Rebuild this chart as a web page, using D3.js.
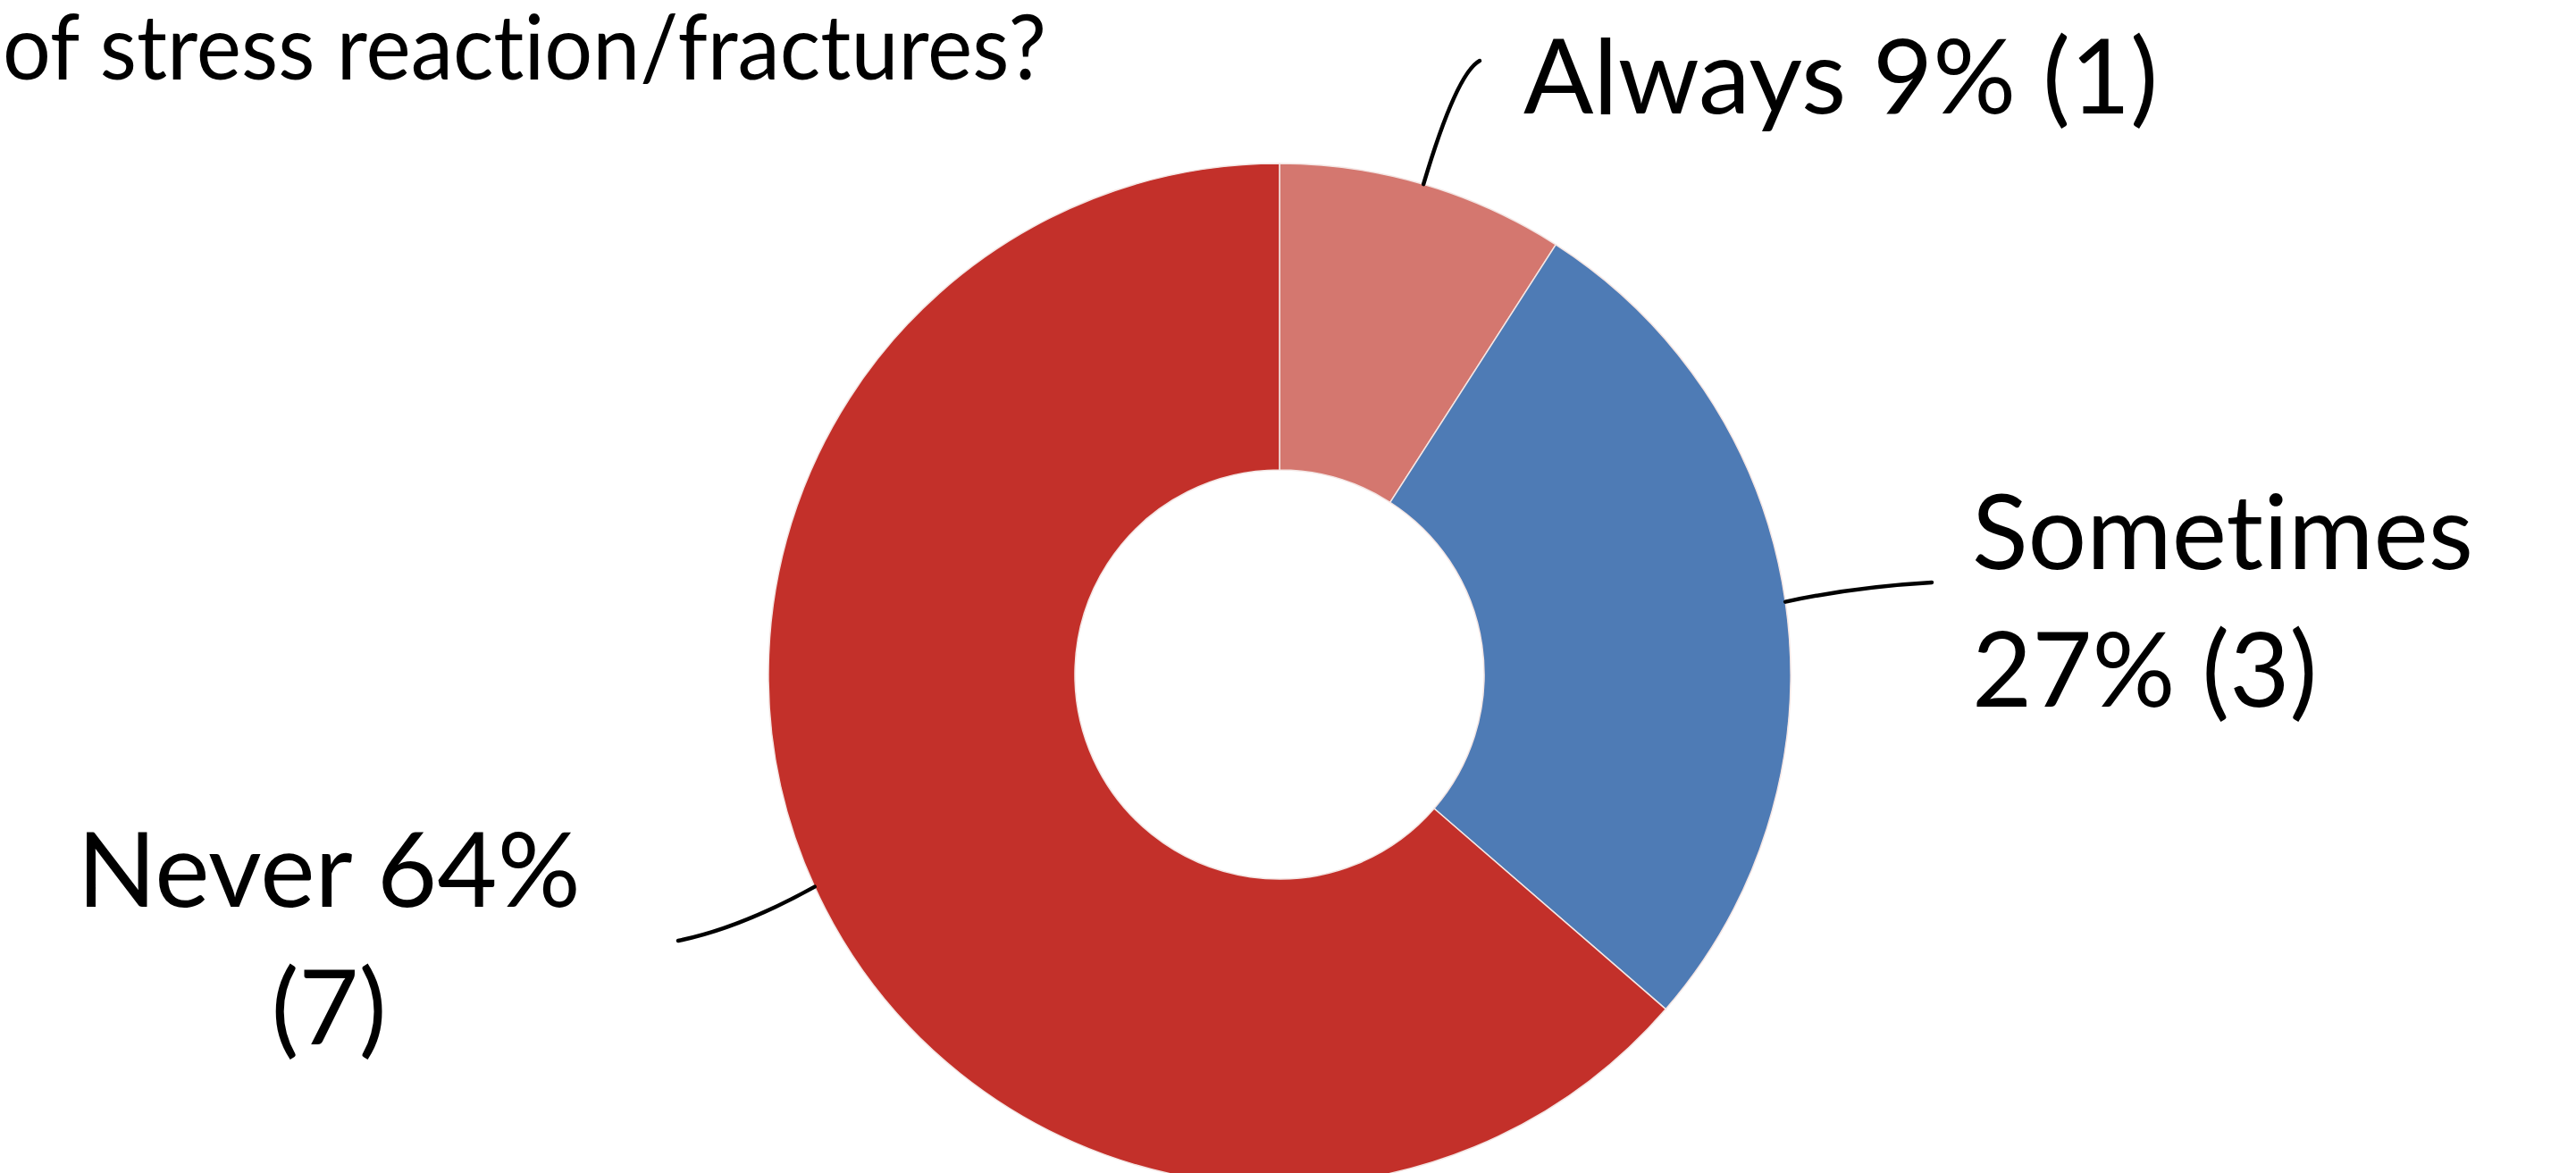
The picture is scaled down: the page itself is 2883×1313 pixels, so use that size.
<!DOCTYPE html>
<html>
<head>
<meta charset="utf-8">
<script src="https://cdn.jsdelivr.net/npm/d3@7"></script>
<style>
	html, body { margin: 0; padding: 0; background: #fff; overflow: hidden; }
	svg { display: block; }
	text { font-family: Lato, "Open Sans", sans-serif; fill: #000; font-variant-ligatures: none; font-feature-settings: "liga" 0; }
</style>
</head>
<body>
<div id="chart"></div>
<script>
var titleText = 'of stress reaction/fractures?';
var categories = ['Always', 'Sometimes', 'Never'];
var counts = [1, 3, 7];
var colors = ['#d4776f', '#4e7bb5', '#c3302a'];

var width = 2883,
	height = 1313,
	center = { x: 1432, y: 755 },
	outerRadius = 572,
	innerRadius = 229,
	labelSize = 116,
	lineHeight = 154;

// where each label sits and how the leader curve runs to it
var labelLayout = {
	Always:    { x: 1705, y: 127,  anchor: 'start',  split: false, end: [1656, 68],   ctrl: [1630, 82] },
	Sometimes: { x: 2207, y: 637,  anchor: 'start',  split: 'name', end: [2162, 652], ctrl: [2075, 657] },
	Never:     { x: 368,  y: 1015, anchor: 'middle', split: 'count', end: [759, 1053], ctrl: [828, 1039] }
};

var total = d3.sum(counts);
var data = categories.map(function(c, i) {
	return { name: c, value: counts[i], color: colors[i] };
});

var svg = d3.select('#chart').append('svg')
	.attr('width', width)
	.attr('height', height);

svg.append('text')
	.attr('x', 3)
	.attr('y', 89)
	.attr('textLength', 1168)
	.attr('lengthAdjust', 'spacingAndGlyphs')
	.style('font-size', '100px')
	.text(titleText);

var pie = d3.pie()
	.sort(null)
	.value(function(d) { return d.value; });

var arc = d3.arc()
	.innerRadius(innerRadius)
	.outerRadius(outerRadius);

var g = svg.append('g')
	.attr('transform', 'translate(' + center.x + ',' + center.y + ')');

var arcs = pie(data);

g.selectAll('path.slice')
	.data(arcs)
	.enter()
	.append('path')
	.attr('class', 'slice')
	.attr('d', arc)
	.attr('fill', function(d) { return d.data.color; })
	.attr('stroke', '#f4e6e4')
	.attr('stroke-width', 1.5);

// leader lines start on the outer edge at each slice's mid angle
svg.selectAll('path.leader')
	.data(arcs)
	.enter()
	.append('path')
	.attr('class', 'leader')
	.attr('fill', 'none')
	.attr('stroke', '#000')
	.attr('stroke-width', 4.5)
	.attr('stroke-linecap', 'round')
	.attr('d', function(d) {
		var mid = (d.startAngle + d.endAngle) / 2,
			lay = labelLayout[d.data.name],
			p = d3.path();
		p.moveTo(center.x + outerRadius * Math.sin(mid), center.y - outerRadius * Math.cos(mid));
		p.quadraticCurveTo(lay.ctrl[0], lay.ctrl[1], lay.end[0], lay.end[1]);
		return p.toString();
	});

function labelLines(d) {
	var lay = labelLayout[d.data.name],
		pct = Math.round(d.data.value / total * 100) + '%',
		cnt = '(' + d.data.value + ')';
	if (lay.split === 'name') return [d.data.name, pct + ' ' + cnt];
	if (lay.split === 'count') return [d.data.name + ' ' + pct, cnt];
	return [d.data.name + ' ' + pct + ' ' + cnt];
}

var labels = svg.selectAll('text.label')
	.data(arcs)
	.enter()
	.append('text')
	.attr('class', 'label')
	.attr('text-anchor', function(d) { return labelLayout[d.data.name].anchor; })
	.style('font-size', labelSize + 'px');

labels.selectAll('tspan')
	.data(function(d) {
		var lay = labelLayout[d.data.name];
		return labelLines(d).map(function(t, i) {
			return { text: t, x: lay.x, y: lay.y + i * lineHeight };
		});
	})
	.enter()
	.append('tspan')
	.attr('x', function(t) { return t.x; })
	.attr('y', function(t) { return t.y; })
	.text(function(t) { return t.text; });
</script>
</body>
</html>
